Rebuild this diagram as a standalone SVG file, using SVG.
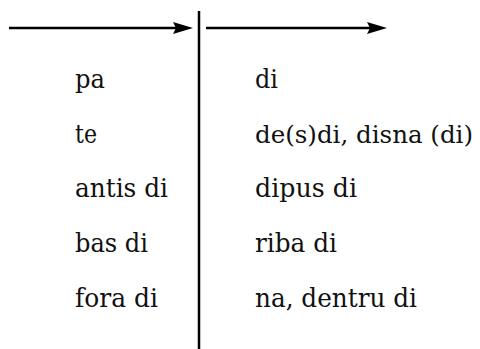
<svg xmlns="http://www.w3.org/2000/svg" width="480" height="349" viewBox="0 0 480 349">
<style>
.t{font-family:"DejaVu Serif",serif;font-size:26px;fill:#111;}
.ln{stroke:#000;stroke-width:2.5;fill:none;}
.ah{fill:#000;}
</style>
<rect width="480" height="349" fill="#fff"/>
<g id="connectors">
<line class="ln" x1="9" y1="28" x2="178" y2="28"/>
<path class="ah" d="M173,22 L193,28 L173,34 L176,28 Z"/>
<line class="ln" x1="206" y1="28" x2="372" y2="28"/>
<path class="ah" d="M367,22 L387,28 L367,34 L370,28 Z"/>
<line class="ln" x1="199" y1="11" x2="199" y2="349"/>
</g>
<g id="left">
<text class="t" x="75" y="88" textLength="30" lengthAdjust="spacingAndGlyphs">pa</text>
<text class="t" x="75" y="143" textLength="22" lengthAdjust="spacingAndGlyphs">te</text>
<text class="t" x="75" y="197" textLength="93" lengthAdjust="spacingAndGlyphs">antis di</text>
<text class="t" x="75" y="252" textLength="73" lengthAdjust="spacingAndGlyphs">bas di</text>
<text class="t" x="75" y="307" textLength="83" lengthAdjust="spacingAndGlyphs">fora di</text>
</g>
<g id="right">
<text class="t" x="255" y="88" textLength="23" lengthAdjust="spacingAndGlyphs">di</text>
<text class="t" x="255" y="143" style="font-size:24px" textLength="218" lengthAdjust="spacingAndGlyphs">de(s)di, disna (di)</text>
<text class="t" x="255" y="197" textLength="102" lengthAdjust="spacingAndGlyphs">dipus di</text>
<text class="t" x="255" y="252" textLength="82" lengthAdjust="spacingAndGlyphs">riba di</text>
<text class="t" x="255" y="307" textLength="162" lengthAdjust="spacingAndGlyphs">na, dentru di</text>
</g>
</svg>
